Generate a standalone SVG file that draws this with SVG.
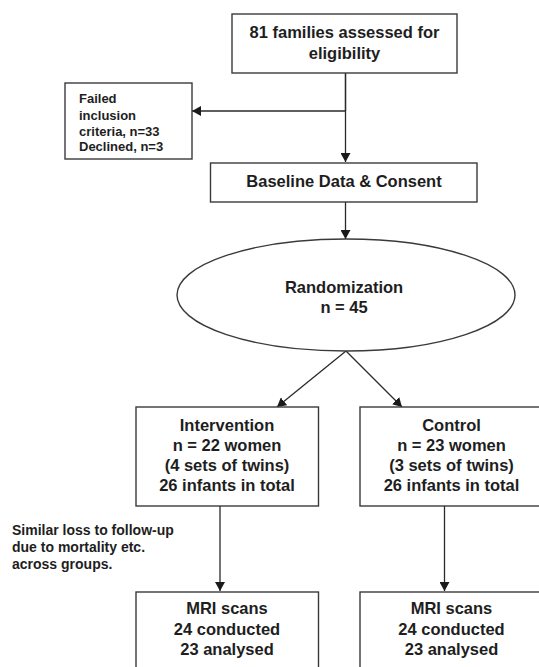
<svg xmlns="http://www.w3.org/2000/svg" width="539" height="667" viewBox="0 0 539 667">
  <defs>
    <marker id="arr" markerUnits="userSpaceOnUse" markerWidth="10" markerHeight="10" refX="9" refY="5" orient="auto">
      <path d="M0,0 L9,5 L0,10 z" fill="#1a1a1a"/>
    </marker>
    <style>
      .box { fill: #fff; stroke: #3a3a3a; stroke-width: 1.4; }
      .t { font-family: "Liberation Sans", Arial, sans-serif; font-weight: bold; fill: #1e1e1e; }
      .c { text-anchor: middle; font-size: 16.5px; }
      .s { font-size: 13px; }
      .n { font-size: 14px; }
      .ln { fill: none; stroke: #2a2a2a; stroke-width: 1.3; marker-end: url(#arr); }
      .ln2 { fill: none; stroke: #2a2a2a; stroke-width: 1.3; }
    </style>
  </defs>
  <rect width="539" height="667" fill="#fff"/>

  <g id="connectors">
    <path class="ln2" d="M345.5,73 L345.5,111"/>
    <path class="ln" d="M345.5,73 L345.5,162"/>
    <path class="ln" d="M345.5,111 L192,111"/>
    <path class="ln" d="M345.5,202 L345.5,239"/>
    <path class="ln" d="M346,351 L277,407"/>
    <path class="ln" d="M346,351 L402,407"/>
    <path class="ln" d="M220,506 L220,591"/>
    <path class="ln" d="M444.5,506 L444.5,591"/>
  </g>

  <g id="assessed">
    <rect class="box" x="232" y="14" width="225" height="59"/>
    <text class="t c" x="344.5" y="38">81 families assessed for</text>
    <text class="t c" x="344.5" y="59">eligibility</text>
  </g>

  <g id="excluded">
    <rect class="box" x="65" y="83" width="127" height="76"/>
    <text class="t s" x="79" y="103">Failed</text>
    <text class="t s" x="79" y="119.5">inclusion</text>
    <text class="t s" x="79" y="135.5">criteria, n=33</text>
    <text class="t s" x="79" y="151">Declined, n=3</text>
  </g>

  <g id="baseline">
    <rect class="box" x="210.5" y="163" width="266.5" height="39"/>
    <text class="t c" x="344" y="187">Baseline Data &amp; Consent</text>
  </g>

  <g id="randomization">
    <ellipse class="box" cx="346" cy="295" rx="169" ry="56"/>
    <text class="t c" x="344" y="293">Randomization</text>
    <text class="t c" x="344" y="313">n = 45</text>
  </g>

  <g id="intervention">
    <rect class="box" x="136" y="407" width="182.5" height="99"/>
    <text class="t c" x="227" y="431">Intervention</text>
    <text class="t c" x="227" y="451">n = 22 women</text>
    <text class="t c" x="227" y="471">(4 sets of twins)</text>
    <text class="t c" x="227" y="491">26 infants in total</text>
  </g>

  <g id="control">
    <rect class="box" x="360" y="407" width="183" height="99"/>
    <text class="t c" x="451.5" y="431">Control</text>
    <text class="t c" x="451.5" y="451">n = 23 women</text>
    <text class="t c" x="451.5" y="471">(3 sets of twins)</text>
    <text class="t c" x="451.5" y="491">26 infants in total</text>
  </g>

  <g id="loss-note">
    <text class="t n" x="12" y="535">Similar loss to follow-up</text>
    <text class="t n" x="12" y="552">due to mortality etc.</text>
    <text class="t n" x="12" y="569">across groups.</text>
  </g>

  <g id="mri-intervention">
    <rect class="box" x="136" y="592" width="182.5" height="90"/>
    <text class="t c" x="227" y="614">MRI scans</text>
    <text class="t c" x="227" y="635">24 conducted</text>
    <text class="t c" x="227" y="655">23 analysed</text>
  </g>

  <g id="mri-control">
    <rect class="box" x="360" y="592" width="183" height="90"/>
    <text class="t c" x="451.5" y="614">MRI scans</text>
    <text class="t c" x="451.5" y="635">24 conducted</text>
    <text class="t c" x="451.5" y="655">23 analysed</text>
  </g>
</svg>
